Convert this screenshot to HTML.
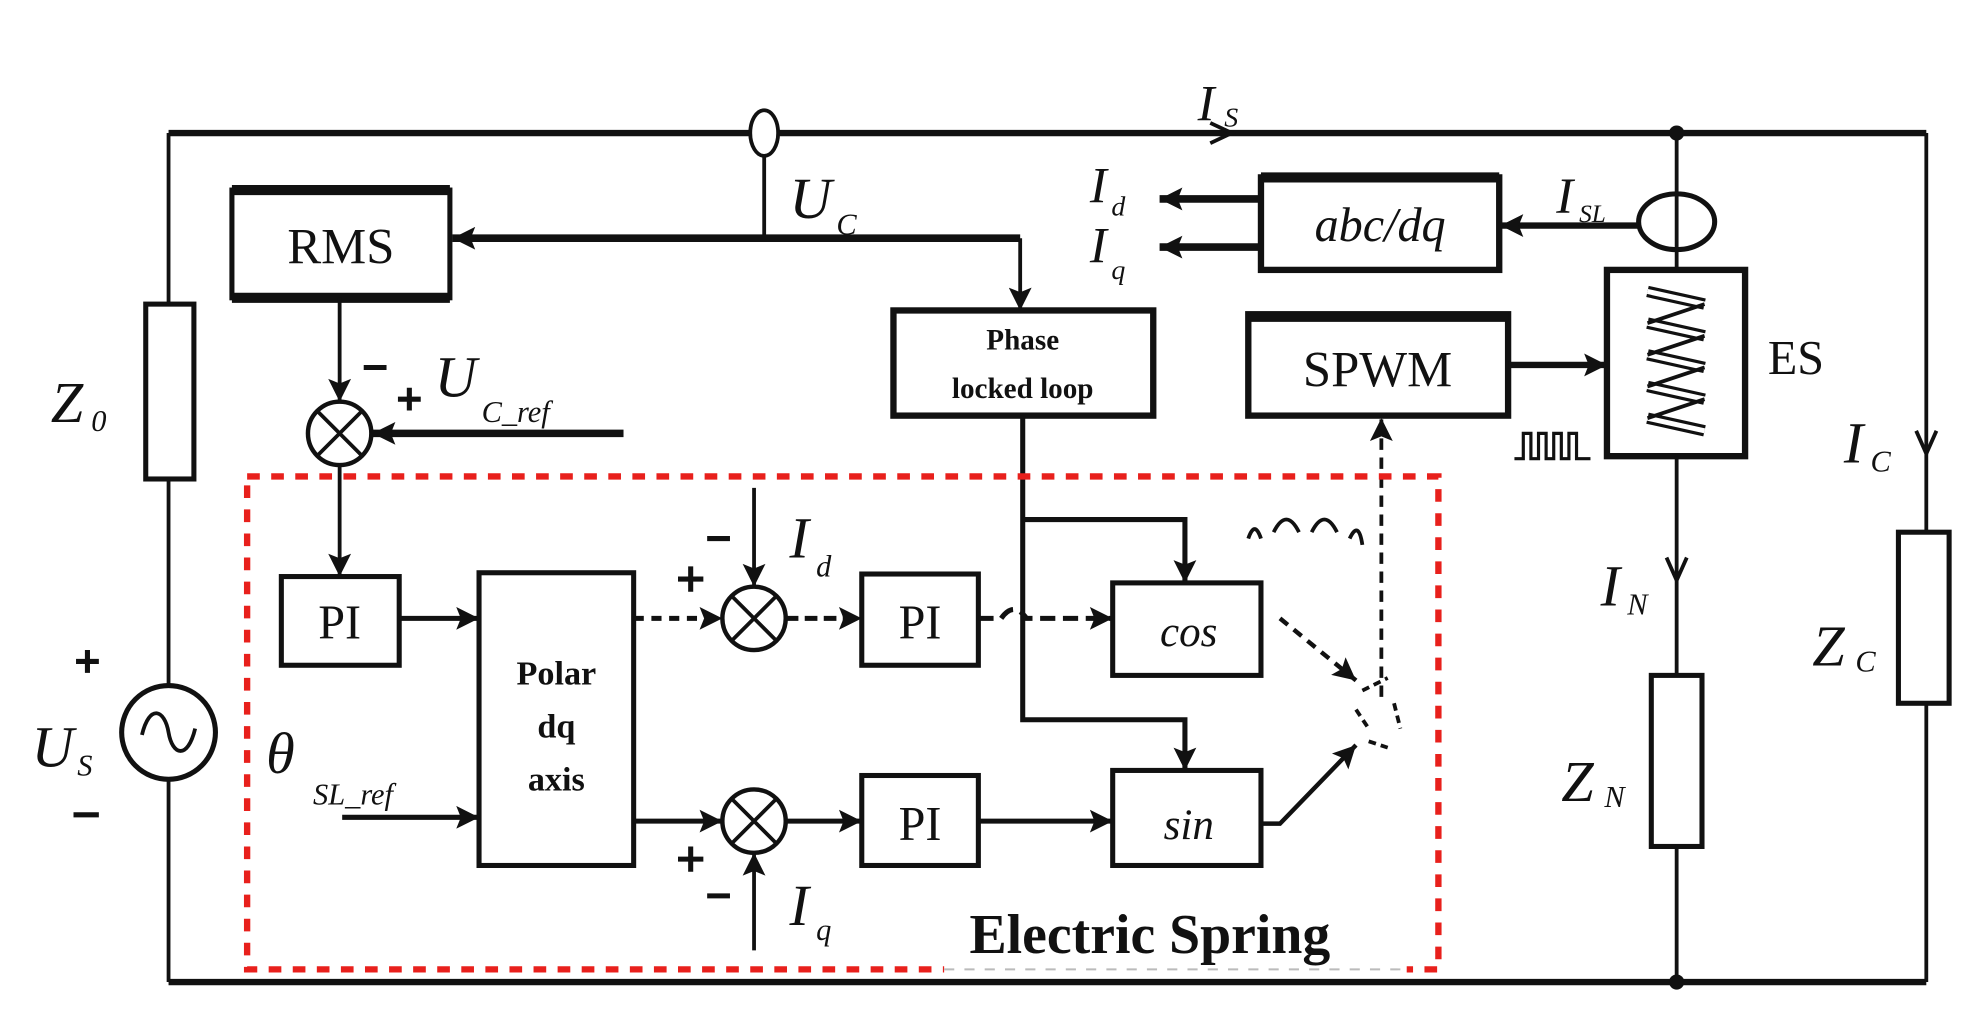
<!DOCTYPE html>
<html><head><meta charset="utf-8"><style>
html,body{margin:0;padding:0;background:#fff;}
svg{display:block;}
text{font-family:"Liberation Serif",serif;fill:#111;}
.it{font-style:italic;}
.b{font-weight:bold;}
</style></head><body>
<svg width="1977" height="1034" viewBox="0 0 1560 816" preserveAspectRatio="none" xmlns="http://www.w3.org/2000/svg">
<defs>
<marker id="a" viewBox="0 0 10 10" refX="10" refY="5" markerWidth="26" markerHeight="18" orient="auto" markerUnits="userSpaceOnUse"><path d="M0,0 L10,5 L0,10 L2,5 z" fill="#111"/></marker>
</defs>
<g stroke="#111" fill="none">
<path d="M133,105 H1520" stroke-width="5"/>
<path d="M133,775 H1520" stroke-width="5"/>
<path d="M133,105 V775" stroke-width="3"/>
<path d="M1520,105 V775" stroke-width="3"/>
<path d="M955,97 L972,105 L955,113" stroke-width="3"/>
<rect x="115" y="240" width="38" height="138" fill="#fff" stroke-width="4"/>
<circle cx="133" cy="578" r="37" fill="#fff" stroke-width="4"/>
<path d="M112,580 C118,555 130,560 133,578 C136,596 148,600 154,575" stroke-width="3"/>
<ellipse cx="603" cy="105" rx="11" ry="18" fill="#fff" stroke-width="3"/>
<path d="M603,123 V188" stroke-width="3"/>
<path d="M805,188 H357" stroke-width="6" marker-end="url(#a)"/>
<path d="M805,188 V245" stroke-width="3" marker-end="url(#a)"/>
<rect x="183" y="150" width="172" height="85" fill="#fff" stroke-width="4"/>
<path d="M183,150 H355 M183,235 H355" stroke-width="8"/>
<path d="M268,235 V317" stroke-width="3" marker-end="url(#a)"/>
<circle cx="268" cy="342" r="25" fill="#fff" stroke-width="3.5"/>
<path d="M250,324 L286,360 M286,324 L250,360" stroke-width="3"/>
<path d="M492,342 H294" stroke-width="6" marker-end="url(#a)"/>
<path d="M268,367 V455" stroke-width="3" marker-end="url(#a)"/>
<rect x="705" y="245" width="205" height="83" fill="#fff" stroke-width="5"/>
<path d="M807,328 V568 H935 V608" stroke-width="4" marker-end="url(#a)"/>
<path d="M807,410 H935 V460" stroke-width="4" marker-end="url(#a)"/>
<rect x="995" y="140" width="188" height="73" fill="#fff" stroke-width="5"/>
<path d="M995,140 H1183" stroke-width="8"/>
<path d="M995,157 H915" stroke-width="6" marker-end="url(#a)"/>
<path d="M995,195 H915" stroke-width="6" marker-end="url(#a)"/>
<ellipse cx="1323" cy="175" rx="30" ry="22" fill="#fff" stroke-width="4"/>
<path d="M1323,105 V213" stroke-width="3"/>
<path d="M1293,178 H1184" stroke-width="5" marker-end="url(#a)"/>
<rect x="985" y="248" width="205" height="80" fill="#fff" stroke-width="5"/>
<path d="M985,250 H1190" stroke-width="8"/>
<path d="M1190,288 H1268" stroke-width="5" marker-end="url(#a)"/>
<rect x="1268" y="213" width="109" height="147" fill="#fff" stroke-width="5"/>
<path d="M1300,230 L1345,240 M1300,255 L1345,265 M1300,280 L1345,290 M1300,305 L1345,315 M1300,330 L1345,340" stroke-width="9"/>
<path d="M1300,230 L1345,240 M1300,255 L1345,265 M1300,280 L1345,290 M1300,305 L1345,315 M1300,330 L1345,340" stroke-width="4" stroke="#fff"/>
<path d="M1345,240 L1300,255 M1345,265 L1300,280 M1345,290 L1300,305 M1345,315 L1300,330" stroke-width="3"/>
<path d="M1195,362 H1202 V342 H1208 V362 H1214 V342 H1220 V362 H1226 V342 H1232 V362 H1238 V342 H1244 V362 H1255" stroke-width="2.5"/>
<path d="M1323,360 V775" stroke-width="3"/>
<path d="M1315,440 L1323,458 L1331,440" stroke-width="3"/>
<rect x="1303" y="533" width="40" height="135" fill="#fff" stroke-width="4"/>
<path d="M1512,340 L1520,358 L1528,340" stroke-width="3"/>
<rect x="1498" y="420" width="40" height="135" fill="#fff" stroke-width="4"/>
<rect x="222" y="455" width="93" height="70" fill="#fff" stroke-width="4"/>
<path d="M315,488 H378" stroke-width="4" marker-end="url(#a)"/>
<rect x="378" y="452" width="122" height="231" fill="#fff" stroke-width="4"/>
<path d="M270,645 H378" stroke-width="4" marker-end="url(#a)"/>
<path d="M500,488 H570" stroke-width="4" stroke-dasharray="8,6" marker-end="url(#a)"/>
<circle cx="595" cy="488" r="25" fill="#fff" stroke-width="3.5"/>
<path d="M577,470 L613,506 M613,470 L577,506" stroke-width="3"/>
<path d="M595,385 V463" stroke-width="3" marker-end="url(#a)"/>
<path d="M620,488 H680" stroke-width="4" stroke-dasharray="10,5" marker-end="url(#a)"/>
<rect x="680" y="453" width="92" height="72" fill="#fff" stroke-width="4"/>
<path d="M772,488 H790 Q800,474 810,488 H878" stroke-width="4" stroke-dasharray="12,6" marker-end="url(#a)"/>
<rect x="878" y="460" width="117" height="73" fill="#fff" stroke-width="4"/>
<path d="M500,648 H570" stroke-width="4" marker-end="url(#a)"/>
<circle cx="595" cy="648" r="25" fill="#fff" stroke-width="3.5"/>
<path d="M577,630 L613,666 M613,630 L577,666" stroke-width="3"/>
<path d="M595,750 V673" stroke-width="3" marker-end="url(#a)"/>
<path d="M620,648 H680" stroke-width="4" marker-end="url(#a)"/>
<rect x="680" y="612" width="92" height="71" fill="#fff" stroke-width="4"/>
<path d="M772,648 H878" stroke-width="4" marker-end="url(#a)"/>
<rect x="878" y="608" width="117" height="75" fill="#fff" stroke-width="4"/>
<path d="M995,650 H1010 L1070,588" stroke-width="3.5" marker-end="url(#a)"/>
<path d="M1010,488 L1070,537" stroke-width="3.5" stroke-dasharray="8,6" marker-end="url(#a)"/>
<path d="M1075,545 L1095,535 M1070,560 L1080,575 M1100,555 L1105,575 M1080,585 L1095,590" stroke-width="3" stroke-dasharray="6,4"/>
<path d="M1090,550 V330" stroke-width="3" stroke-dasharray="9,6" marker-end="url(#a)"/>
<path d="M985,425 Q990,410 995,425 M1005,420 Q1015,400 1025,420 M1035,420 Q1045,400 1055,420 M1065,425 Q1072,410 1075,430" stroke-width="3"/>
<rect x="195" y="376" width="940" height="389" stroke="#e8201c" stroke-width="5" stroke-dasharray="10,9"/>
<path d="M745,765 H1110" stroke="#fff" stroke-width="6"/>
<path d="M745,765 H1110" stroke="#bbb" stroke-width="1.5" stroke-dasharray="8,8"/>
<path d="M60,522 H78 M69,513 V531 M58,643 H78 M287,290 H305 M314,315 H332 M323,306 V324 M535,457 H555 M545,447 V467 M558,425 H576 M535,678 H555 M545,668 V688 M558,707 H576" stroke-width="4"/>
</g>
<text x="945" y="95" font-size="40" class="it">I</text><text x="966" y="100" font-size="22" class="it">S</text>
<text x="40" y="333" font-size="46" class="it">Z</text><text x="72" y="340" font-size="24" class="it">0</text>
<text x="25" y="605" font-size="46" class="it">U</text><text x="61" y="612" font-size="24" class="it">S</text>
<text x="623" y="172" font-size="46" class="it">U</text><text x="660" y="185" font-size="24" class="it">C</text>
<text x="269" y="208" font-size="40" text-anchor="middle">RMS</text>
<text x="343" y="313" font-size="46" class="it">U</text><text x="380" y="333" font-size="24" class="it">C_ref</text>
<text x="807" y="276" font-size="23" class="b" text-anchor="middle">Phase</text>
<text x="807" y="314" font-size="23" class="b" text-anchor="middle">locked loop</text>
<text x="860" y="160" font-size="40" class="it">I</text><text x="877" y="170" font-size="22" class="it">d</text>
<text x="860" y="207" font-size="40" class="it">I</text><text x="877" y="220" font-size="22" class="it">q</text>
<text x="1089" y="190" font-size="38" class="it" text-anchor="middle">abc/dq</text>
<text x="1228" y="168" font-size="40" class="it">I</text><text x="1246" y="175" font-size="20" class="it">SL</text>
<text x="1087" y="305" font-size="40" text-anchor="middle">SPWM</text>
<text x="1395" y="295" font-size="38">ES</text>
<text x="1455" y="365" font-size="46" class="it">I</text><text x="1476" y="372" font-size="24" class="it">C</text>
<text x="1430" y="525" font-size="46" class="it">Z</text><text x="1464" y="530" font-size="24" class="it">C</text>
<text x="1263" y="478" font-size="46" class="it">I</text><text x="1284" y="485" font-size="24" class="it">N</text>
<text x="1232" y="632" font-size="46" class="it">Z</text><text x="1266" y="637" font-size="24" class="it">N</text>
<text x="268" y="504" font-size="38" text-anchor="middle">PI</text>
<text x="726" y="504" font-size="38" text-anchor="middle">PI</text>
<text x="726" y="663" font-size="38" text-anchor="middle">PI</text>
<text x="938" y="510" font-size="34" class="it" text-anchor="middle">cos</text>
<text x="938" y="662" font-size="34" class="it" text-anchor="middle">sin</text>
<text x="439" y="540" font-size="27" class="b" text-anchor="middle">Polar</text>
<text x="439" y="582" font-size="27" class="b" text-anchor="middle">dq</text>
<text x="439" y="624" font-size="27" class="b" text-anchor="middle">axis</text>
<text x="623" y="440" font-size="46" class="it">I</text><text x="644" y="455" font-size="24" class="it">d</text>
<text x="623" y="730" font-size="46" class="it">I</text><text x="644" y="742" font-size="24" class="it">q</text>
<text x="210" y="610" font-size="46" class="it">θ</text><text x="247" y="635" font-size="24" class="it">SL_ref</text>
<text x="765" y="752" font-size="44" class="b">Electric Spring</text>
<circle cx="1323" cy="105" r="6" fill="#111"/>
<circle cx="1323" cy="775" r="6" fill="#111"/>
</svg>
</body></html>
